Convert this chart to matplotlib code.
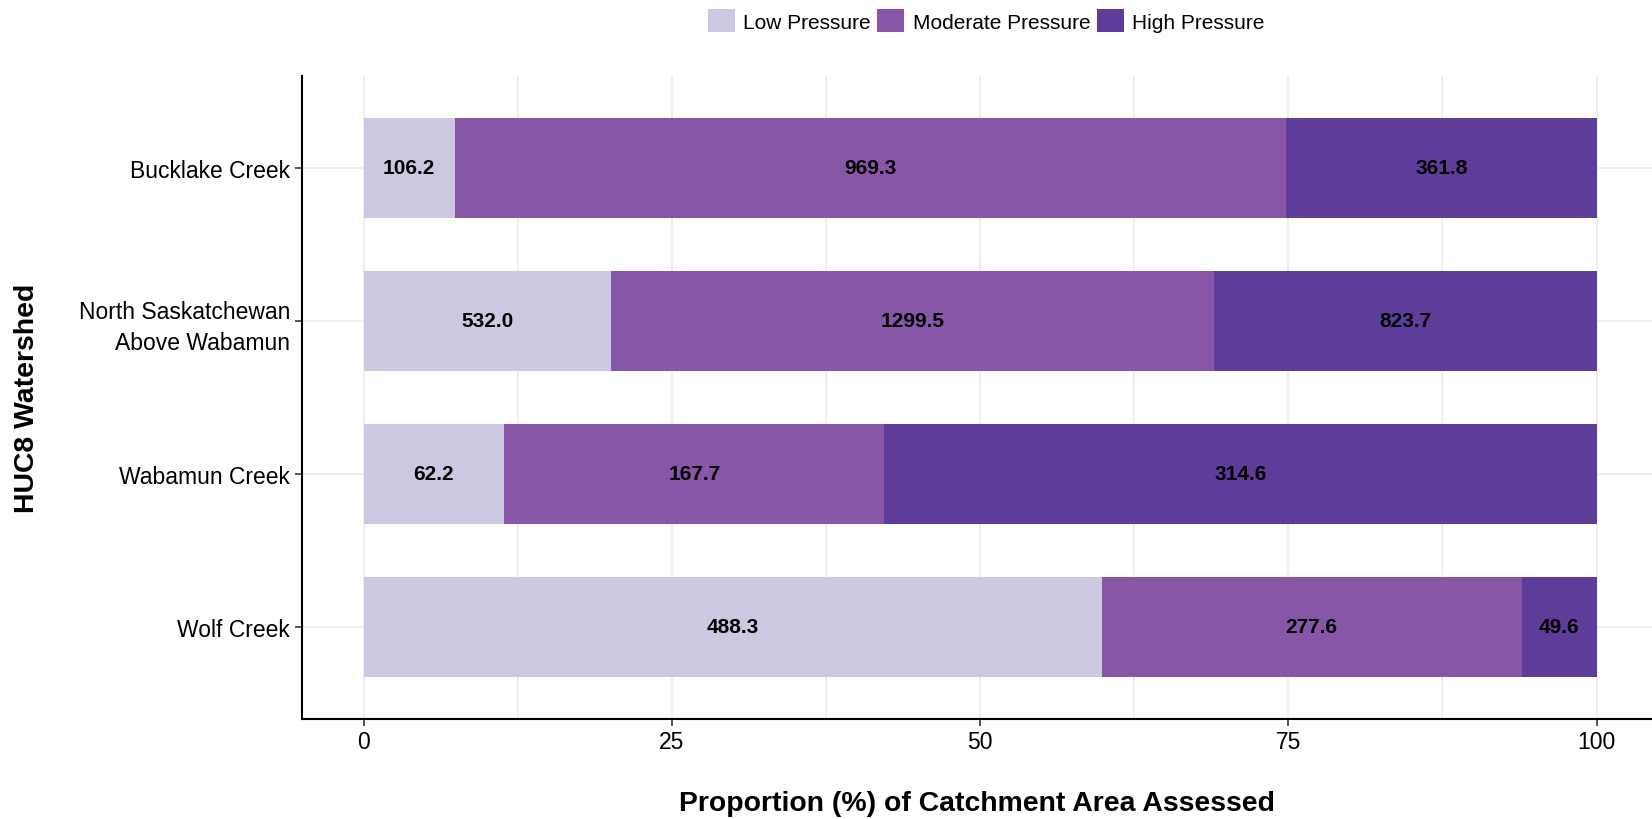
import matplotlib.pyplot as plt
import numpy as np
from matplotlib.patches import Patch

plt.rcParams["font.family"] = ["Liberation Sans", "DejaVu Sans"]

# Data (catchment area per pressure class)
watersheds = ["Bucklake Creek", "North Saskatchewan\nAbove Wabamun", "Wabamun Creek", "Wolf Creek"]
low = [106.2, 532.0, 62.2, 488.3]
moderate = [969.3, 1299.5, 167.7, 277.6]
high = [361.8, 823.7, 314.6, 49.6]
classes = ["Low Pressure", "Moderate Pressure", "High Pressure"]
colors = ["#cbc9e2", "#8856a7", "#5e3c99"]

values = np.array([low, moderate, high])
pct = values / values.sum(axis=0) * 100

fig = plt.figure(figsize=(16.52, 8.2), dpi=100)
ax = fig.add_axes([0.1828, 0.1224, 0.8172, 0.7837])

y = np.arange(len(watersheds))[::-1]
left = np.zeros(len(watersheds))
for i in range(3):
    ax.barh(y, pct[i], left=left, height=0.65, color=colors[i], zorder=2)
    for j in range(len(watersheds)):
        ax.text(left[j] + pct[i][j] / 2, y[j], f"{values[i][j]:.1f}",
                ha="center", va="center", fontsize=15, fontweight="bold", zorder=3)
    left += pct[i]

ax.set_xlim(-5, 104.5)
ax.set_ylim(-0.6, 3.6)
ax.set_yticks(y)
ax.set_yticklabels(watersheds, fontsize=16.5, linespacing=1.4)
ax.set_xticks([0, 25, 50, 75, 100])
ax.set_xticks([12.5, 37.5, 62.5, 87.5], minor=True)
ax.tick_params(axis="x", which="minor", length=0)
ax.tick_params(axis="both", which="major", labelsize=16.5, length=5, width=1.2, color="#333333")
ax.grid(True, which="both", color="#ebebeb", linewidth=1.2, zorder=0)
ax.set_axisbelow(True)
for s in ["top", "right"]:
    ax.spines[s].set_visible(False)
for s in ["left", "bottom"]:
    ax.spines[s].set_linewidth(1.5)

ax.set_xlabel("Proportion (%) of Catchment Area Assessed", fontsize=20.4, fontweight="bold", labelpad=26)
ax.set_ylabel("HUC8 Watershed", fontsize=20.4, fontweight="bold", labelpad=28)

handles = [Patch(facecolor=c, edgecolor="none") for c in colors]
fig.legend(handles, classes, loc="upper center", bbox_to_anchor=(0.597, 1.005), ncol=3,
           frameon=False, fontsize=15, handlelength=1.3, handleheight=1.3,
           handletextpad=0.4, columnspacing=0.3, borderaxespad=0.3)

fig.savefig("out.png", dpi=100)
